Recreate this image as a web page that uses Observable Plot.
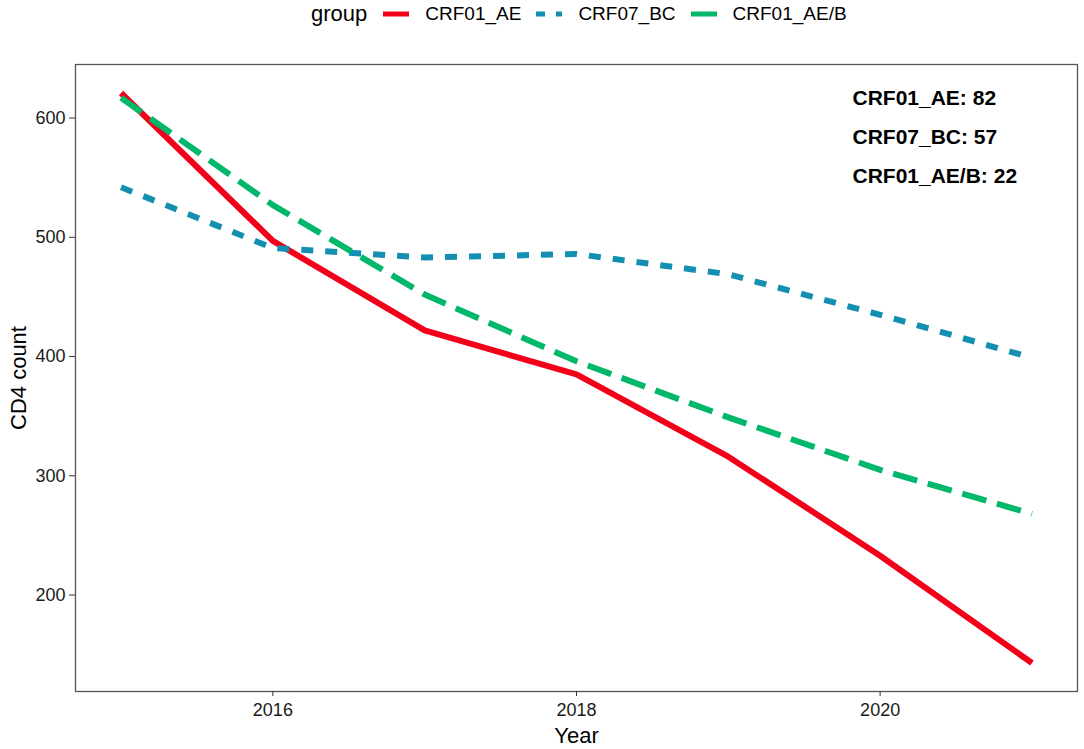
<!DOCTYPE html>
<html>
<head>
<meta charset="utf-8">
<script src="https://cdn.jsdelivr.net/npm/d3@7"></script>
<script src="https://cdn.jsdelivr.net/npm/@observablehq/plot@0.6"></script>
<style>
  body { margin: 0; background: #fff; font-family: "Liberation Sans", Arial, sans-serif; }
  #wrap { position: relative; width: 1084px; height: 749px; }
  #legend { position: absolute; left: 311px; top: 0; height: 28px; display: flex; align-items: center; color: #000; }
  #legend .title { font-size: 22px; margin-right: 16px; }
  #legend .lab { font-size: 19px; margin-right: 15px; }
  #legend svg.key { margin-right: 16px; display: block; }
  #chart { position: absolute; left: 0; top: 30px; }
  #chart svg { font-family: "Liberation Sans", Arial, sans-serif; }
</style>
</head>
<body>
<div id="wrap">
  <div id="legend"></div>
  <div id="chart"></div>
</div>
<script>
// ---- data ----
const years = [2015, 2016, 2017, 2018, 2019, 2020, 2021];
const groups = ["CRF01_AE", "CRF07_BC", "CRF01_AE/B"];
const crf01ae  = [621, 497, 422, 385, 316, 233, 143];
const crf07bc  = [542, 491, 483, 486, 469, 435, 399];
const crf01aeb = [617, 527, 452, 396, 349, 305, 268];
const groupCounts = [82, 57, 22];
const xTicks = [2016, 2018, 2020];
const yTicks = [200, 300, 400, 500, 600];
const legendTitle = "group";
const xLabel = "Year";
const yLabel = "CD4 count";

// ---- styles ----
const colors = ["#f20019", "#138fb1", "#00b76a"];
const dashes = [null, "12,12", "25,11"];

const seriesValues = [crf01ae, crf07bc, crf01aeb];
const rows = [];
groups.forEach((g, gi) => years.forEach((y, i) => rows.push({group: g, year: y, value: seriesValues[gi][i]})));

const annotLabels = groups.map((g, i) => `${g}: ${groupCounts[i]}`);

// ggplot-like 5% expansion
const xExt = d3.extent(years), xPad = (xExt[1] - xExt[0]) * 0.05;
const yExt = d3.extent(rows, d => d.value), yPad = (yExt[1] - yExt[0]) * 0.05;

const lineMarks = groups.map((g, gi) => Plot.line(rows.filter(d => d.group === g), {
  x: "year", y: "value", stroke: "group",
  strokeWidth: 6, strokeDasharray: dashes[gi] || undefined,
  strokeLinejoin: "round", strokeLinecap: "butt"
}));

const plot = Plot.plot({
  width: 1084,
  height: 719,
  marginTop: 34,
  marginBottom: 58,
  marginLeft: 75,
  marginRight: 7,
  style: {fontFamily: "Liberation Sans, Arial, sans-serif", background: "#fff"},
  x: {domain: [xExt[0] - xPad, xExt[1] + xPad]},
  y: {domain: [yExt[0] - yPad, yExt[1] + yPad]},
  color: {domain: groups, range: colors},
  marks: [
    ...lineMarks,
    Plot.frame({stroke: "#555", strokeWidth: 1.3}),
    Plot.axisX({ticks: xTicks, tickFormat: d => String(d), tickSize: 5, tickPadding: 7, fontSize: 18, stroke: "#333", fill: "#1a1a1a", label: null}),
    Plot.axisY({ticks: yTicks, tickSize: 6, tickPadding: 4, fontSize: 18, stroke: "#333", fill: "#1a1a1a", label: null}),
    Plot.text([xLabel], {text: d => d, frameAnchor: "bottom", dy: 44, fontSize: 22, fill: "#000", lineAnchor: "middle"}),
    Plot.text([yLabel], {text: d => d, frameAnchor: "left", dx: -57, rotate: -90, fontSize: 22, fill: "#000", lineAnchor: "middle", textAnchor: "middle"}),
    Plot.text([annotLabels.join("\n")], {text: d => d, frameAnchor: "top-right", textAnchor: "start", lineAnchor: "top", dx: -225, dy: 13, fontSize: 21, fontWeight: "bold", lineHeight: 1.86, fill: "#000"})
  ]
});
document.getElementById("chart").appendChild(plot);

// ---- legend (HTML above the SVG) ----
const legend = document.getElementById("legend");
const t = document.createElement("span");
t.className = "title"; t.textContent = legendTitle;
legend.appendChild(t);
groups.forEach((g, i) => {
  const ns = "http://www.w3.org/2000/svg";
  const s = document.createElementNS(ns, "svg");
  s.setAttribute("class", "key"); s.setAttribute("width", 26); s.setAttribute("height", 12);
  const l = document.createElementNS(ns, "line");
  l.setAttribute("x1", 0); l.setAttribute("x2", 26); l.setAttribute("y1", 6); l.setAttribute("y2", 6);
  l.setAttribute("stroke", colors[i]); l.setAttribute("stroke-width", 5);
  if (dashes[i]) l.setAttribute("stroke-dasharray", i === 1 ? "9,11" : "26,11");
  s.appendChild(l);
  legend.appendChild(s);
  const lab = document.createElement("span");
  lab.className = "lab"; lab.textContent = g;
  legend.appendChild(lab);
});
</script>
</body>
</html>
